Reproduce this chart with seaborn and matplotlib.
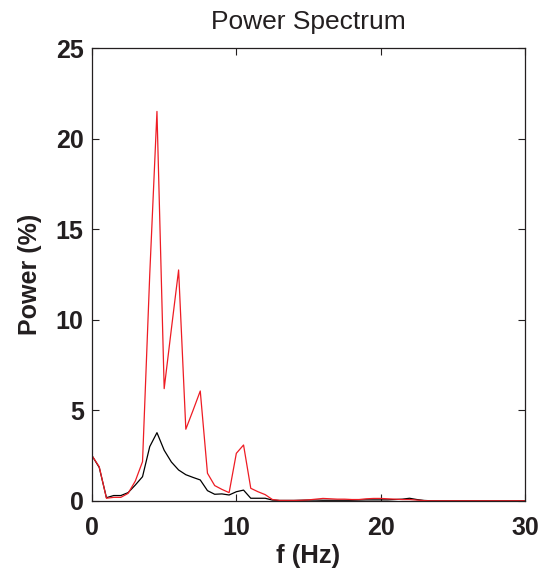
import numpy as np
import pandas as pd
import matplotlib
matplotlib.use("Agg")
import matplotlib.pyplot as plt
import seaborn as sns

freq = [i * 0.5 for i in range(61)]

power_red = [2.5, 1.89, 0.15, 0.2, 0.2, 0.42, 1.1, 2.17, 12.5, 21.5,
             6.2, 9.5, 12.75, 3.96, 5.0, 6.07, 1.53, 0.85, 0.64, 0.46,
             2.63, 3.09, 0.7, 0.51, 0.35, 0.08, 0.03, 0.03, 0.03, 0.04,
             0.06, 0.1, 0.14, 0.12, 0.1, 0.1, 0.08, 0.08, 0.12, 0.14,
             0.14, 0.12, 0.1, 0.08, 0.08, 0.05, 0.02, 0.01, 0.01, 0.01,
             0.01, 0.01, 0.01, 0.01, 0.01, 0.01, 0.01, 0.01, 0.01, 0.01,
             0.01]

power_black = [2.5, 1.85, 0.18, 0.3, 0.3, 0.46, 0.88, 1.34, 3.0, 3.77,
               2.8, 2.15, 1.71, 1.45, 1.3, 1.16, 0.57, 0.37, 0.39, 0.33,
               0.51, 0.6, 0.15, 0.15, 0.15, 0.05, 0.03, 0.03, 0.03, 0.04,
               0.05, 0.05, 0.04, 0.04, 0.04, 0.04, 0.04, 0.05, 0.06, 0.06,
               0.06, 0.06, 0.08, 0.1, 0.15, 0.08, 0.03, 0.01, 0.01, 0.01,
               0.01, 0.01, 0.01, 0.01, 0.01, 0.01, 0.01, 0.01, 0.01, 0.01,
               0.01]

x_ticks = [0, 10, 20, 30]
y_ticks = [0, 5, 10, 15, 20, 25]

sns.set_style("white")
plt.rcParams['font.family'] = ['Liberation Sans', 'DejaVu Sans']

df = pd.DataFrame({"f": freq, "red": power_red, "black": power_black})

fig = plt.figure(figsize=(5.5, 5.73), dpi=100)
ax = fig.add_axes([0.1673, 0.1257, 0.9545 - 0.1673, 0.9162 - 0.1257])

sns.lineplot(data=df, x="f", y="black", ax=ax, color="black", linewidth=0.9)
sns.lineplot(data=df, x="f", y="red", ax=ax, color="#ee1c24", linewidth=0.9)

ax.set_xlim(0, 30)
ax.set_ylim(0, 25)
ax.set_xticks(x_ticks)
ax.set_yticks(y_ticks)
ax.set_xticklabels([str(t) for t in x_ticks], fontsize=18, fontweight="bold", color="#231f20")
ax.set_yticklabels([str(t) for t in y_ticks], fontsize=18, fontweight="bold", color="#231f20")
ax.tick_params(direction="in", length=5, width=0.8, top=True, right=True,
               bottom=True, left=True, colors="#231f20")
ax.tick_params(axis="x", pad=11)
ax.tick_params(axis="y", pad=6)
for s in ax.spines.values():
    s.set_visible(True)
    s.set_linewidth(0.9)
    s.set_color("#231f20")

ax.set_xlabel("f (Hz)", fontsize=18.5, fontweight="bold", color="#231f20", labelpad=3)
ax.set_ylabel("Power (%)", fontsize=18, fontweight="bold", color="#231f20", labelpad=10)
ax.set_title("Power Spectrum", fontsize=19, color="#231f20", pad=14)

fig.savefig("out.png", dpi=100, facecolor="white")
